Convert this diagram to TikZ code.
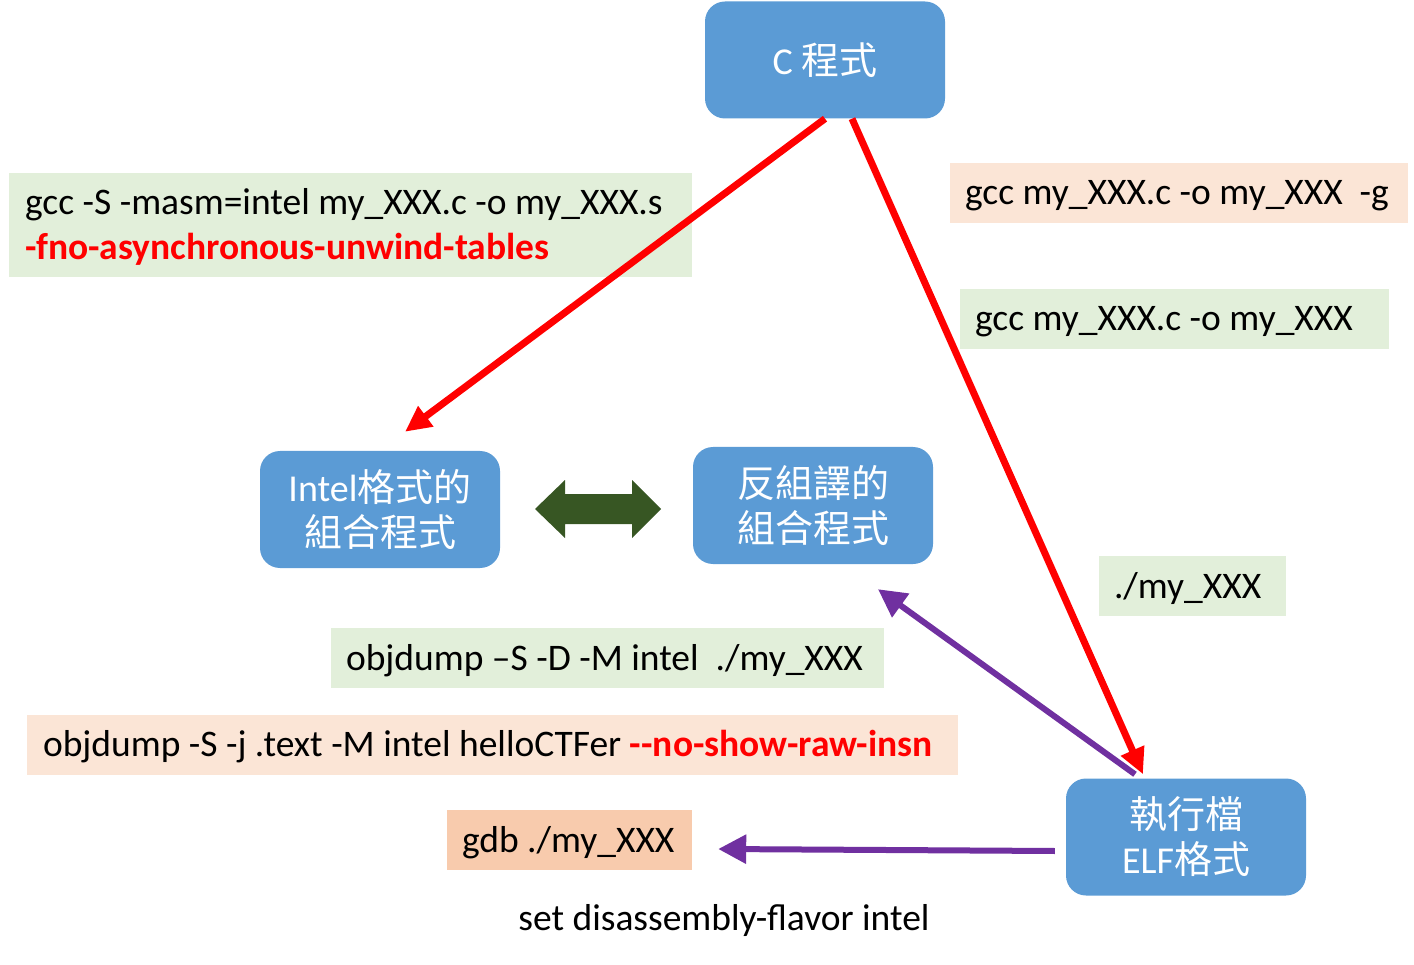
\documentclass[tikz,border=0pt]{standalone}
\usepackage{fontspec}
\setmainfont{Carlito}
\newfontfamily\cjk{Noto Sans CJK TC}
\usetikzlibrary{arrows.meta}
\definecolor{boxblue}{HTML}{5B9BD5}
\definecolor{lightgreen}{HTML}{E2EFDA}
\definecolor{lightpeach}{HTML}{FBE5D6}
\definecolor{peach}{HTML}{F8CBAD}
\definecolor{darkgreen}{HTML}{375623}
\definecolor{violet}{HTML}{7030A0}
\newcommand\cmdfont{\fontsize{37.5}{45}\selectfont}
\newcommand\boxfont{\fontsize{38}{45}\selectfont}

\begin{document}
\begin{tikzpicture}[x=1pt,y=-1pt,
	blk/.style={fill=boxblue, rounded corners=20pt, minimum width=240pt,
		minimum height=117pt, inner sep=0pt, text=white, align=center, font=\boxfont},
	cmd/.style={inner xsep=15pt, inner ysep=0pt, minimum height=60pt, text depth=2pt,
		align=flush left, font=\cmdfont},
	redline/.style={draw=red, line width=7pt, -{Triangle[length=26pt,width=24pt]}},
	purpleline/.style={draw=violet, line width=6pt, -{Triangle[length=28pt,width=28pt]}}]
\useasboundingbox (0,0) rectangle (1414,965);
% the four boxes
\node[blk](C) at (825,60) {C {\cjk 程式}};
\node[blk](asm) at (380,509.5) {Intel{\cjk 格式的}\\{\cjk 組合程式}};
\node[blk](dis) at (813,505.5) {{\cjk 反組譯的}\\{\cjk 組合程式}};
\node[blk](elf) at (1186,837) {{\cjk 執行檔}\\ELF{\cjk 格式}};
% commands
\node[cmd, fill=lightgreen, minimum height=104pt, text depth=47pt, inner xsep=16pt, text width=651pt](gccS) at (350.5,225)
	{\mbox{gcc -S -masm=intel my\_XXX.c -o my\_XXX.s}\\
	\mbox{\color{red}\bfseries -fno-asynchronous-unwind-tables}};
\node[cmd, fill=lightpeach, text width=428pt](gccg) at (1179,193) {\mbox{gcc my\_XXX.c -o my\_XXX~~-g}};
\node[cmd, fill=lightgreen, text width=399pt](gcc) at (1174.5,319.5) {\mbox{gcc my\_XXX.c -o my\_XXX}};
\node[cmd, fill=lightgreen, text width=157pt](run) at (1192.5,586) {./my\_XXX};
\node[cmd, fill=lightgreen, text width=523pt](objD) at (607.5,658) {\mbox{objdump –S -D -M intel~~./my\_XXX}};
\node[cmd, fill=lightpeach, inner xsep=16pt, text width=899pt](objj) at (492.5,744.5)
	{\mbox{objdump -S -j .text -M intel helloCTFer {\color{red}\bfseries -{}-no-show-raw-insn}}};
\node[cmd, fill=peach, text width=215pt](gdb) at (569.5,840) {\mbox{gdb ./my\_XXX}};
\node[font=\cmdfont](flavor) at (724,920) {set disassembly-flavor intel};
% arrows
\draw[redline] (C.south) -- ([xshift=25pt,yshift=19pt]asm.north);
\draw[redline] ([xshift=27pt]C.south) -- ([xshift=-43pt,yshift=4pt]elf.north);
\draw[purpleline] ([xshift=-51pt,yshift=4pt]elf.north) -- ([xshift=65pt,yshift=-25pt]dis.south);
\draw[purpleline] ([xshift=-11pt,yshift=-14pt]elf.west) -- ([xshift=26pt,yshift=-9pt]gdb.east);
\fill[darkgreen] (535,509) -- (565,480) -- (565,494) -- (632,494) -- (632,480) -- (661,509)
	-- (632,538) -- (632,524) -- (565,524) -- (565,538) -- cycle;
\end{tikzpicture}
\end{document}
